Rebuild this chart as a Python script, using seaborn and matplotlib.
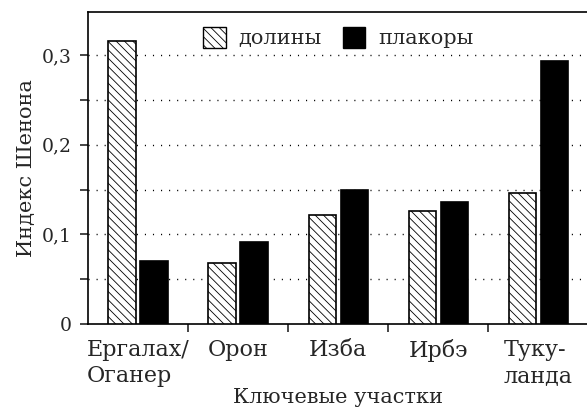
import numpy as np
import pandas as pd
import seaborn as sns
import matplotlib.pyplot as plt
from matplotlib.patches import Patch
from matplotlib.ticker import MultipleLocator, FuncFormatter

# Shannon index by key site, valleys vs plakors
sites = ['Ергалах/\nОганер', 'Орон', 'Изба', 'Ирбэ', 'Туку-\nланда']
valleys = [0.316, 0.068, 0.122, 0.126, 0.146]
plakors = [0.070, 0.092, 0.150, 0.136, 0.293]
groups = ['долины', 'плакоры']

df = pd.DataFrame({
    'site': sites * 2,
    'value': valleys + plakors,
    'type': [groups[0]] * len(sites) + [groups[1]] * len(sites),
})

sns.set_style('white')
plt.rcParams['font.family'] = ['DejaVu Serif']
plt.rcParams['hatch.linewidth'] = 0.6

fig = plt.figure(figsize=(5.87, 4.12), dpi=100)
ax = fig.add_axes([0.15, 0.2136, 0.852, 0.7573])

sns.barplot(data=df, x='site', y='value', hue='type', hue_order=groups,
            palette={groups[0]: 'white', groups[1]: 'black'},
            edgecolor='black', linewidth=1.2, width=0.64, gap=0.15,
            legend=False, ax=ax, zorder=3)

for bar in ax.containers[0]:
    bar.set_hatch('\\\\\\\\')

ax.set_xlim(-0.5, 4.5)
ax.set_ylim(0, 0.348)

# y axis: labels every 0.1, ticks + dotted grid every 0.05
ax.yaxis.set_major_locator(MultipleLocator(0.1))
ax.yaxis.set_minor_locator(MultipleLocator(0.05))
ax.yaxis.set_major_formatter(FuncFormatter(lambda v, p: '0' if abs(v) < 1e-9 else f'{v:.1f}'.replace('.', ',')))
ax.tick_params(axis='y', which='both', direction='out', length=6, width=1.2, left=True, labelsize=13.5, pad=6)
for yv in np.arange(0.05, 0.35, 0.05):
    ax.axhline(yv, color='black', linewidth=1, linestyle=(0, (0.8, 5)), zorder=1)

# x axis: labels at site centres, tick marks between sites
ax.set_xticks(range(len(sites)))
ax.set_xticklabels(sites, multialignment='left')
ax.set_xticks(np.arange(0.5, len(sites) - 0.5, 1), minor=True)
ax.tick_params(axis='x', which='major', length=0, labelsize=16, pad=11)
ax.tick_params(axis='x', which='minor', direction='out', length=6, width=1.2, bottom=True)

for side in ['left', 'top', 'bottom']:
    ax.spines[side].set_visible(True)
    ax.spines[side].set_color('black')
    ax.spines[side].set_linewidth(1.2)
ax.spines['right'].set_visible(False)

ax.set_xlabel('Ключевые участки', fontsize=15, labelpad=1)
ax.set_ylabel('Индекс Шенона', fontsize=15, labelpad=4)

handles = [Patch(facecolor='white', edgecolor='black', hatch='\\\\\\\\', linewidth=1),
           Patch(facecolor='black', edgecolor='black', linewidth=1)]
ax.legend(handles, groups, loc='upper center', ncol=2, frameon=False,
          fontsize=15, handlelength=1.1, handleheight=1.2,
          handletextpad=0.6, columnspacing=1.0, borderaxespad=0.3)

fig.savefig('out.png', dpi=100)
